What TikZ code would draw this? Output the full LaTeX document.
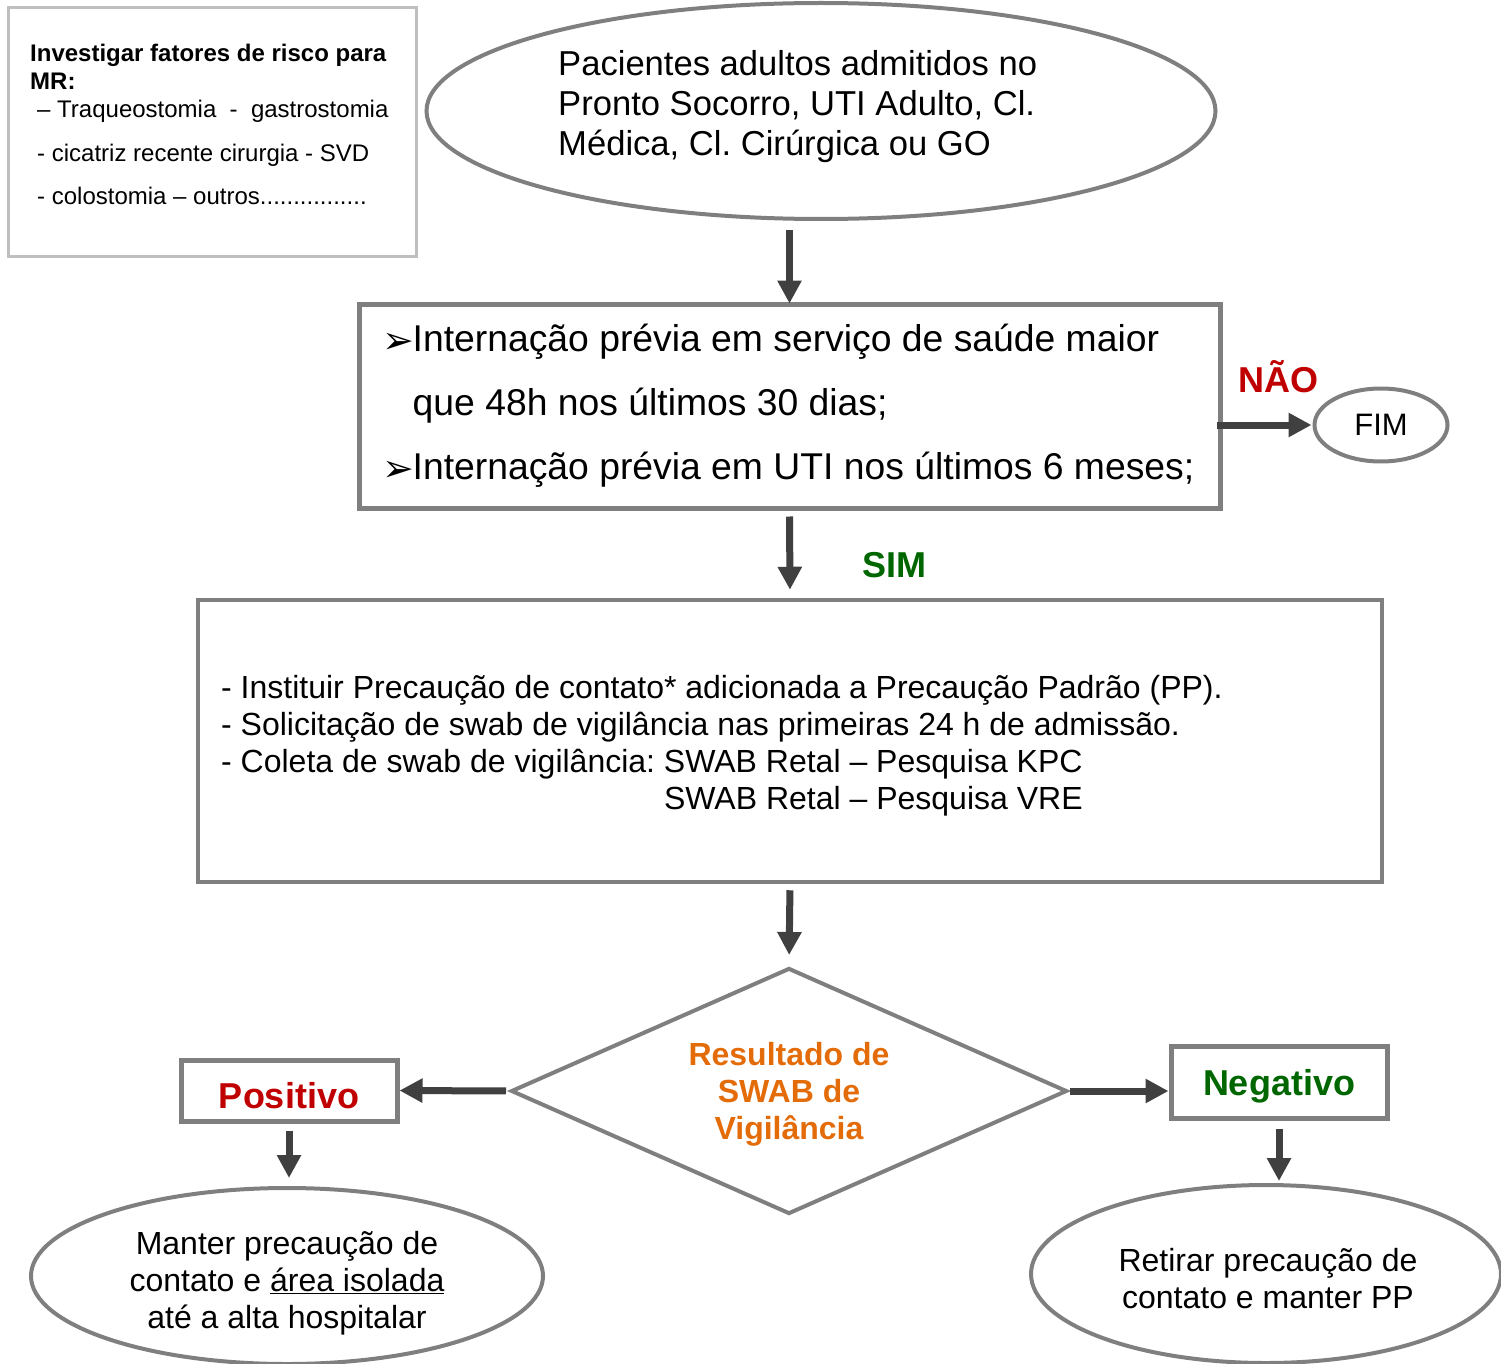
\documentclass[tikz,border=0pt]{standalone}
\usepackage{fontspec}
\setmainfont{Liberation Sans}
\newfontfamily\dingfont{DejaVu Sans}
\usepackage{tikz}
\usetikzlibrary{arrows.meta,shapes.geometric,positioning,calc}
\definecolor{framegray}{HTML}{7F7F7F}
\definecolor{softgray}{HTML}{BFBFBF}
\definecolor{arrowgray}{HTML}{404040}
\definecolor{naored}{HTML}{C00000}
\definecolor{simgreen}{HTML}{006600}
\definecolor{swaborange}{HTML}{E36C09}
\frenchspacing
\newcommand{\pointmark}{\makebox[28pt][l]{\hspace*{-2pt}\raisebox{-2pt}{\dingfont\fontsize{38}{38}\selectfont ➢}}}
\tikzset{
	flowbox/.style={
		rectangle,
		draw=framegray, line width=5pt,
		inner sep=0pt
	},
	flowoval/.style={
		ellipse,
		draw=framegray, line width=4pt,
		inner sep=0pt
	},
	riskbox/.style={rectangle, draw=softgray, line width=3pt, inner sep=0pt},
	risktext/.style={inner sep=0pt, align=left, font={\fontsize{24}{28}\selectfont}},
	admittext/.style={inner sep=0pt, align=left, font={\fontsize{34.6}{40}\selectfont}},
	criteriatext/.style={align=left, font={\fontsize{37.3}{64}\selectfont}},
	measuretext/.style={inner sep=0pt, align=left, font={\fontsize{32}{37}\selectfont}},
	ovaltext/.style={inner sep=0pt, align=center, font={\fontsize{32}{37}\selectfont}},
	answer/.style={inner sep=0pt, font={\fontsize{36}{42}\selectfont\bfseries}},
	swabtext/.style={inner sep=0pt, align=center, text=swaborange, font={\fontsize{32}{37}\selectfont\bfseries}},
	flowarrow/.style={draw=arrowgray, line width=7pt, -{Triangle[width=23pt,length=23pt]}},
}

\begin{document}
\begin{tikzpicture}[x=1pt,y=-1pt]
	\useasboundingbox (0,0) rectangle (1501,1364);
	% fatores de risco
	\node[riskbox, minimum width=408pt, minimum height=249pt] (risk) at (212,132.5) {};
	\node[risktext, anchor=north west] (risktxt) at (30,44) {\textbf{Investigar fatores de risco para}\\\textbf{MR:}\\
		\hspace*{7pt}– Traqueostomia\ \ -\ \ gastrostomia\\[16pt]
		\hspace*{7pt}- cicatriz recente cirurgia - SVD\\[15pt]
		\hspace*{7pt}- colostomia – outros................};
	% fluxo principal
	\node[flowoval, minimum width=789pt, minimum height=216pt] (admit) at (821,111) {};
	\node[admittext, anchor=west] (admittxt) at (558,107) {Pacientes adultos admitidos no\\Pronto Socorro, UTI Adulto, Cl.\\Médica, Cl. Cirúrgica ou GO};
	\node[flowbox, criteriatext, minimum width=861pt, minimum height=204pt] (history) at (789.5,406)
		{\pointmark Internação prévia em serviço de saúde maior\\\hspace*{28pt}que 48h nos últimos 30 dias;\\\pointmark Internação prévia em UTI nos últimos 6 meses;};
	\node[answer, text=naored] (nao) at (1278,377) {NÃO};
	\node[flowoval, minimum width=133pt, minimum height=73pt, font={\fontsize{31}{36}\selectfont}] (fim) at (1381,425) {FIM};
	\node[answer, text=simgreen] (sim) at (894,565) {SIM};
	\node[flowbox, line width=4.5pt, minimum width=1184pt, minimum height=282pt] (measures) at (790,741) {};
	\node[measuretext, anchor=west] (measurestxt) at (221,745.5)
		{- Instituir Precaução de contato* adicionada a Precaução Padrão (PP).\\
		- Solicitação de swab de vigilância nas primeiras 24 h de admissão.\\
		- Coleta de swab de vigilância: SWAB Retal – Pesquisa KPC\\
		\phantom{- Coleta de swab de vigilância: }SWAB Retal – Pesquisa VRE};
	% decisao
	\node[diamond, draw=framegray, line width=4pt, aspect=2.26, minimum width=556pt, minimum height=246pt, inner sep=0pt] (result) at (789,1091) {};
	\node[swabtext] (resulttxt) at (789,1094) {Resultado de\\SWAB de\\Vigilância};
	\node[flowbox, minimum width=216pt, minimum height=61pt, answer, text height=36pt, text depth=0pt, text=naored] (pos) at (289,1090.5) {Positivo};
	\node[flowbox, minimum width=216pt, minimum height=72pt, answer, text height=26.5pt, text depth=0pt, text=simgreen] (neg) at (1279,1082) {Negativo};
	\node[flowoval, minimum width=512pt, minimum height=176pt] (keep) at (287,1276) {};
	\node[ovaltext] (keeptxt) at (287,1283) {Manter precaução de\\contato e \underline{área isolada}\\até a alta hospitalar};
	\node[flowoval, minimum width=470pt, minimum height=178pt] (remove) at (1266,1274) {};
	\node[ovaltext] (removetxt) at (1268,1279) {Retirar precaução de\\contato e manter PP};
	% setas
	\foreach \from/\to/\gapa/\gapb in {history.north |- admit.south/history.north/9/-2,
		history.south/measures.north/6/8,
		measures.south/result.north/6/11,
		history.east |- fim.west/fim.west/-6/1,
		result.west/pos.east/3/0,
		result.east/result.east -| neg.west/1/0,
		pos.south/pos.south |- keep.north/7/8,
		neg.south/neg.south |- remove.north/8/2}
		\draw[flowarrow, shorten <=\gapa pt, shorten >=\gapb pt] (\from) -- (\to);
\end{tikzpicture}
\end{document}
